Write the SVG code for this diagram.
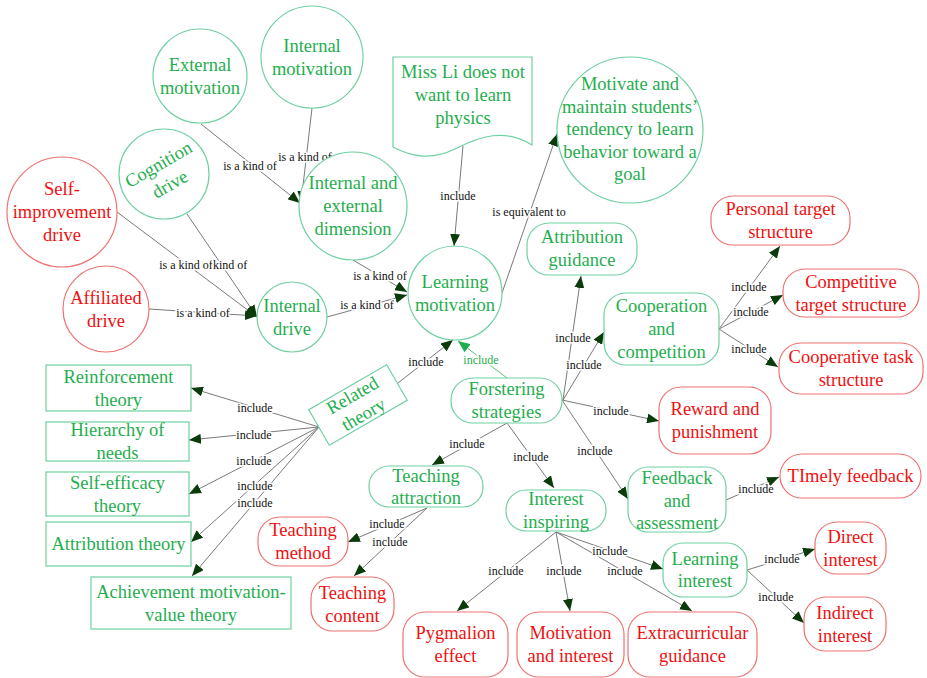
<svg xmlns="http://www.w3.org/2000/svg" width="927" height="678" viewBox="0 0 927 678">
<defs>
<style>
.g{fill:#fff;stroke:#6fd0a0;stroke-width:1.2}
.r{fill:#fff;stroke:#ee7272;stroke-width:1.2}
.gt{font-family:"Liberation Serif",serif;font-size:18.5px;fill:#1fae4e;text-anchor:middle}
.rt{font-family:"Liberation Serif",serif;font-size:18.5px;fill:#f01010;text-anchor:middle}
.e{stroke:#7a7a7a;stroke-width:1;fill:none;marker-end:url(#ah)}
.eg{stroke:#5fc080;stroke-width:1;fill:none;marker-end:url(#ahg)}
.l{font-family:"Liberation Serif",serif;font-size:12px;fill:#111;text-anchor:middle;stroke:#fff;stroke-width:3;paint-order:stroke}
.lg{font-family:"Liberation Serif",serif;font-size:12px;fill:#1fae4e;text-anchor:middle;stroke:#fff;stroke-width:3;paint-order:stroke}
</style>
<marker id="ah" viewBox="0 0 12 10" refX="12" refY="5" markerWidth="12" markerHeight="10" markerUnits="userSpaceOnUse" orient="auto"><path d="M0,0 L12,5 L0,10 z" fill="#0b3a0b"/></marker>
<marker id="ahg" viewBox="0 0 12 10" refX="12" refY="5" markerWidth="12" markerHeight="10" markerUnits="userSpaceOnUse" orient="auto"><path d="M0,0 L12,5 L0,10 z" fill="#1fae4e"/></marker>
</defs>
<rect width="927" height="678" fill="#fff"/>

<g id="connectors">
<line class="e" x1="201" y1="124" x2="300" y2="203"/>
<line class="e" x1="312" y1="108" x2="301" y2="203"/>
<line class="e" x1="353" y1="260" x2="407" y2="292"/>
<line class="e" x1="327" y1="317" x2="407" y2="295"/>
<line class="e" x1="187" y1="214" x2="257" y2="317"/>
<line class="e" x1="117" y1="212" x2="257" y2="317"/>
<line class="e" x1="149" y1="309" x2="257" y2="316"/>
<line class="e" x1="463" y1="146" x2="454" y2="246"/>
<line class="e" x1="502" y1="293" x2="557" y2="134"/>
<line class="e" x1="398" y1="383" x2="453" y2="340"/>
<line class="eg" x1="507" y1="378" x2="458" y2="341"/>
<line class="e" x1="563" y1="400" x2="581" y2="276"/>
<line class="e" x1="563" y1="400" x2="604" y2="332"/>
<line class="e" x1="562" y1="400" x2="659" y2="421"/>
<line class="e" x1="562" y1="400" x2="628" y2="499"/>
<line class="e" x1="507" y1="423" x2="432" y2="465"/>
<line class="e" x1="507" y1="423" x2="554" y2="488"/>
<line class="e" x1="719" y1="329" x2="780" y2="246"/>
<line class="e" x1="719" y1="329" x2="783" y2="295"/>
<line class="e" x1="719" y1="329" x2="778" y2="367"/>
<line class="e" x1="726" y1="500" x2="779" y2="477"/>
<line class="e" x1="556" y1="532" x2="663" y2="569"/>
<line class="e" x1="556" y1="532" x2="692" y2="611"/>
<line class="e" x1="556" y1="532" x2="570" y2="611"/>
<line class="e" x1="556" y1="532" x2="457" y2="611"/>
<line class="e" x1="747" y1="570" x2="815" y2="549"/>
<line class="e" x1="747" y1="570" x2="804" y2="623"/>
<line class="e" x1="427" y1="508" x2="348" y2="542"/>
<line class="e" x1="427" y1="508" x2="354" y2="576"/>
<line class="e" x1="319" y1="427" x2="191" y2="388"/>
<line class="e" x1="319" y1="427" x2="189" y2="440"/>
<line class="e" x1="319" y1="427" x2="189" y2="494"/>
<line class="e" x1="319" y1="427" x2="191" y2="542"/>
<line class="e" x1="319" y1="427" x2="192" y2="576"/>

<text class="l" x="250" y="170">is a kind of</text>
<text class="l" x="305" y="161">is a kind of</text>
<text class="l" x="380" y="280">is a kind of</text>
<text class="l" x="367" y="309">is a kind of</text>
<text class="l" x="186" y="269">is a kind of</text>
<text class="l" x="213" y="269" style="text-anchor:start">kind of</text>
<text class="l" x="203" y="317">is a kind of</text>
<text class="l" x="458" y="200">include</text>
<text class="l" x="529" y="216">is equivalent to</text>
<text class="l" x="426" y="366">include</text>
<text class="lg" x="481" y="364">include</text>
<text class="l" x="573" y="342">include</text>
<text class="l" x="584" y="369">include</text>
<text class="l" x="611" y="415">include</text>
<text class="l" x="595" y="455">include</text>
<text class="l" x="467" y="448">include</text>
<text class="l" x="531" y="461">include</text>
<text class="l" x="749" y="291">include</text>
<text class="l" x="751" y="316">include</text>
<text class="l" x="749" y="353">include</text>
<text class="l" x="756" y="493">include</text>
<text class="l" x="610" y="555">include</text>
<text class="l" x="625" y="575">include</text>
<text class="l" x="564" y="575">include</text>
<text class="l" x="506" y="575">include</text>
<text class="l" x="782" y="563">include</text>
<text class="l" x="776" y="601">include</text>
<text class="l" x="387" y="528">include</text>
<text class="l" x="390" y="546">include</text>
<text class="l" x="255" y="412">include</text>
<text class="l" x="254" y="439">include</text>
<text class="l" x="254" y="465">include</text>
<text class="l" x="255" y="490">include</text>
<text class="l" x="255" y="507">include</text>
</g>

<g id="external-motivation"><circle class="g" cx="200" cy="76" r="47"/><text class="gt" x="200" y="71">External</text><text class="gt" x="200" y="94">motivation</text></g>
<g id="internal-motivation"><circle class="g" cx="312" cy="57" r="51"/><text class="gt" x="312" y="52">Internal</text><text class="gt" x="312" y="75">motivation</text></g>
<g id="cognition-drive"><circle class="g" cx="164" cy="174" r="45"/><g transform="rotate(-30 164 174)"><text class="gt" x="164" y="169">Cognition</text><text class="gt" x="164" y="192">drive</text></g></g>
<g id="self-improvement-drive"><circle class="r" cx="62" cy="212" r="55"/><text class="rt" x="62" y="195">Self-</text><text class="rt" x="62" y="218">improvement</text><text class="rt" x="62" y="241">drive</text></g>
<g id="affiliated-drive"><circle class="r" cx="106" cy="309" r="43"/><text class="rt" x="106" y="304">Affiliated</text><text class="rt" x="106" y="327">drive</text></g>
<g id="internal-drive"><circle class="g" cx="292" cy="317" r="35"/><text class="gt" x="292" y="312">Internal</text><text class="gt" x="292" y="335">drive</text></g>
<g id="internal-external-dimension"><circle class="g" cx="353" cy="206" r="54"/><text class="gt" x="353" y="189">Internal and</text><text class="gt" x="353" y="212">external</text><text class="gt" x="353" y="235">dimension</text></g>
<g id="learning-motivation"><circle class="g" cx="455" cy="293" r="47"/><text class="gt" x="455" y="288">Learning</text><text class="gt" x="455" y="311">motivation</text></g>
<g id="motivate-maintain"><circle class="g" cx="630" cy="130" r="73"/><text class="gt" x="630" y="90">Motivate and</text><text class="gt" x="630" y="113">maintain students’</text><text class="gt" x="630" y="135">tendency to learn</text><text class="gt" x="630" y="158">behavior toward a</text><text class="gt" x="630" y="180">goal</text></g>
<g id="miss-li"><path class="g" d="M393,57 H532 V145 C505,128 480,136 455,149 C430,161 410,156 393,147 Z"/><text class="gt" x="463" y="78">Miss Li does not</text><text class="gt" x="463" y="101">want to learn</text><text class="gt" x="463" y="124">physics</text></g>

<g id="attribution-guidance"><rect class="g" x="527" y="223" width="110" height="52" rx="22"/><text class="gt" x="582" y="243">Attribution</text><text class="gt" x="582" y="266">guidance</text></g>
<g id="cooperation-competition"><rect class="g" x="604" y="293" width="115" height="72" rx="22"/><text class="gt" x="661.5" y="312">Cooperation</text><text class="gt" x="661.5" y="335">and</text><text class="gt" x="661.5" y="358">competition</text></g>
<g id="forstering-strategies"><rect class="g" x="451" y="378" width="111" height="45" rx="22"/><text class="gt" x="506.5" y="395">Forstering</text><text class="gt" x="506.5" y="418">strategies</text></g>
<g id="teaching-attraction"><rect class="g" x="369" y="466" width="114" height="41" rx="20"/><text class="gt" x="426" y="482">Teaching</text><text class="gt" x="426" y="504">attraction</text></g>
<g id="interest-inspiring"><rect class="g" x="506" y="490" width="100" height="41" rx="20"/><text class="gt" x="556" y="505">Interest</text><text class="gt" x="556" y="528">inspiring</text></g>
<g id="feedback-assessment"><rect class="g" x="628" y="467" width="98" height="65" rx="20"/><text class="gt" x="677" y="484">Feedback</text><text class="gt" x="677" y="507">and</text><text class="gt" x="677" y="529">assessment</text></g>
<g id="learning-interest"><rect class="g" x="663" y="543" width="84" height="54" rx="20"/><text class="gt" x="705" y="565">Learning</text><text class="gt" x="705" y="587">interest</text></g>
<g id="related-theory"><g transform="rotate(-30 358 405)"><rect class="g" x="313" y="384.5" width="90" height="41"/><text class="gt" x="358" y="400">Related</text><text class="gt" x="358" y="422">theory</text></g></g>

<g id="reinforcement-theory"><rect class="g" x="46" y="365" width="145" height="46"/><text class="gt" x="118.5" y="382.5">Reinforcement</text><text class="gt" x="118.5" y="405.5">theory</text></g>
<g id="hierarchy-of-needs"><rect class="g" x="46" y="422" width="143" height="39"/><text class="gt" x="117.5" y="436">Hierarchy of</text><text class="gt" x="117.5" y="459">needs</text></g>
<g id="self-efficacy-theory"><rect class="g" x="46" y="472" width="143" height="44"/><text class="gt" x="117.5" y="488.5">Self-efficacy</text><text class="gt" x="117.5" y="511.5">theory</text></g>
<g id="attribution-theory"><rect class="g" x="46" y="522" width="145" height="44"/><text class="gt" x="118.5" y="550">Attribution theory</text></g>
<g id="achievement-theory"><rect class="g" x="91" y="577" width="200" height="52"/><text class="gt" x="191" y="597.5">Achievement motivation-</text><text class="gt" x="191" y="620.5">value theory</text></g>

<g id="personal-target"><rect class="r" x="711" y="196" width="139" height="49" rx="22"/><text class="rt" x="780.5" y="215">Personal target</text><text class="rt" x="780.5" y="238">structure</text></g>
<g id="competitive-target"><rect class="r" x="783" y="269" width="136" height="48" rx="22"/><text class="rt" x="851" y="287.5">Competitive</text><text class="rt" x="851" y="310.5">target structure</text></g>
<g id="cooperative-task"><rect class="r" x="779" y="343" width="144" height="51" rx="22"/><text class="rt" x="851" y="363">Cooperative task</text><text class="rt" x="851" y="386">structure</text></g>
<g id="reward-punishment"><rect class="r" x="659" y="387" width="112" height="67" rx="22"/><text class="rt" x="715" y="415">Reward and</text><text class="rt" x="715" y="438">punishment</text></g>
<g id="timely-feedback"><rect class="r" x="780" y="454" width="141" height="44" rx="22"/><text class="rt" x="850.5" y="482">TImely feedback</text></g>
<g id="direct-interest"><rect class="r" x="815" y="522" width="71" height="52" rx="22"/><text class="rt" x="850.5" y="542.5">Direct</text><text class="rt" x="850.5" y="565.5">interest</text></g>
<g id="indirect-interest"><rect class="r" x="804" y="597" width="82" height="54" rx="22"/><text class="rt" x="845" y="618.5">Indirect</text><text class="rt" x="845" y="641.5">interest</text></g>
<g id="pygmalion-effect"><rect class="r" x="403" y="612" width="105" height="65" rx="22"/><text class="rt" x="455.5" y="639">Pygmalion</text><text class="rt" x="455.5" y="662">effect</text></g>
<g id="motivation-interest"><rect class="r" x="517" y="612" width="107" height="65" rx="22"/><text class="rt" x="570.5" y="639">Motivation</text><text class="rt" x="570.5" y="662">and interest</text></g>
<g id="extracurricular-guidance"><rect class="r" x="628" y="612" width="129" height="65" rx="22"/><text class="rt" x="692.5" y="639">Extracurricular</text><text class="rt" x="692.5" y="662">guidance</text></g>
<g id="teaching-method"><rect class="r" x="258" y="517" width="90" height="49" rx="22"/><text class="rt" x="303" y="536">Teaching</text><text class="rt" x="303" y="559">method</text></g>
<g id="teaching-content"><rect class="r" x="311" y="577" width="83" height="54" rx="22"/><text class="rt" x="352.5" y="598.5">Teaching</text><text class="rt" x="352.5" y="621.5">content</text></g>
</svg>
